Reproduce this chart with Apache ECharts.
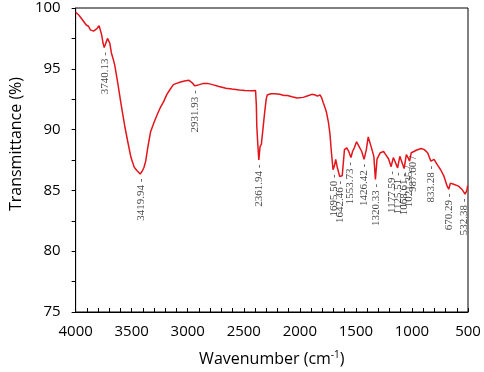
<!DOCTYPE html>
<html>
<head>
<meta charset="utf-8">
<script src="https://cdn.jsdelivr.net/npm/echarts@6/dist/echarts.min.js"></script>
<style>
  html, body { margin: 0; padding: 0; background: #fff; }
  #ftirChart { width: 484px; height: 372px; }
</style>
</head>
<body>
<div id="ftirChart"></div>
<script>
// spectrum (wavenumber cm-1, transmittance %)
const wavenumber = [
  4000, 3970, 3945, 3928, 3905, 3885, 3869, 3855, 3840, 3826, 3810, 3791, 3780, 3768, 3755, 3745,
  3735, 3716, 3705, 3695, 3681, 3665, 3651, 3622, 3594, 3564, 3535, 3506, 3477, 3450, 3424, 3405,
  3390, 3375, 3355, 3332, 3300, 3274, 3245, 3215, 3186, 3158, 3128, 3099, 3070, 3030, 2988, 2960,
  2939, 2915, 2896, 2860, 2823, 2780, 2721, 2660, 2605, 2540, 2489, 2430, 2395, 2388, 2384, 2375,
  2366, 2355, 2343, 2329, 2314, 2300, 2291, 2260, 2227, 2180, 2140, 2111, 2070, 2024, 1970, 1922,
  1905, 1893, 1880, 1863, 1845, 1830, 1820, 1805, 1791, 1775, 1762, 1745, 1732, 1718, 1704, 1692,
  1680, 1666, 1645, 1622, 1602, 1582, 1564, 1544, 1530, 1514, 1494, 1471, 1448, 1427, 1407, 1390,
  1384, 1361, 1340, 1326, 1311, 1282, 1268, 1253, 1239, 1224, 1209, 1186, 1166, 1152, 1128, 1108,
  1093, 1070, 1050, 1035, 1021, 1006, 983, 962, 919, 890, 860, 831, 803, 773, 744, 716,
  686, 672, 657, 628, 585, 555, 526, 510, 503
];
const transmittance = [
  99.65, 99.4, 99.1, 99.0, 98.6, 98.5, 98.2, 98.3, 98.1, 98.1, 98.3, 98.55, 98.2, 97.8, 97.1, 96.75,
  97.0, 97.5, 97.3, 97.1, 96.3, 95.8, 95.3, 93.7, 92.05, 90.4, 89.0, 87.7, 86.9, 86.6, 86.35, 86.6,
  86.9, 87.4, 88.6, 89.8, 90.6, 91.2, 91.8, 92.3, 92.9, 93.3, 93.7, 93.8, 93.9, 94.0, 94.05, 93.85,
  93.6, 93.65, 93.7, 93.8, 93.8, 93.7, 93.55, 93.4, 93.33, 93.25, 93.22, 93.2, 93.22, 92.0, 90.3, 88.8,
  87.5, 88.6, 88.8, 88.9, 91.4, 92.5, 92.85, 92.95, 92.95, 92.9, 92.8, 92.8, 92.7, 92.6, 92.65, 92.8,
  92.75, 92.9, 92.75, 92.85, 92.75, 92.9, 92.85, 92.6, 92.2, 91.8, 91.4, 90.6, 89.7, 88.1, 86.7, 87.0,
  87.55, 86.9, 86.15, 86.2, 88.35, 88.5, 88.2, 87.7, 88.2, 88.5, 89.0, 88.6, 88.2, 87.55, 88.35, 89.4,
  89.3, 88.5, 87.8, 85.9, 87.6, 88.1, 88.2, 88.2, 88.0, 87.9, 87.6, 86.95, 87.7, 87.4, 86.85, 87.8,
  87.95, 86.8, 87.95, 87.7, 87.4, 88.1, 88.2, 88.3, 88.45, 88.35, 88.1, 87.4, 87.55, 87.1, 86.7, 86.2,
  85.35, 85.1, 85.6, 85.5, 85.35, 85.1, 84.7, 85.0, 85.4
];

// labelled bands
const peakWavenumber = [3740.13, 3419.94, 2931.93, 2361.94, 1695.50, 1642.46, 1553.73, 1426.42,
  1320.33, 1177.59, 1125.51, 1068.61, 1021.35, 987.60, 833.28, 670.29, 532.38];
const peakTransmittance = [96.75, 86.35, 93.6, 87.5, 86.7, 86.15, 87.7, 87.55,
  85.9, 86.95, 86.85, 86.8, 87.4, 88.2, 87.4, 85.1, 84.7];
const peakLabels = ['3740.13 -', '3419.94 -', '2931.93 -', '2361.94 -', '1695.50 -', '1642.46 -',
  '1553.73 -', '1426.42 -', '1320.33 -', '1177.59 -', '1125.51 -', '1068.61 -', '1021.35 /',
  '987.60 /', '833.28 -', '670.29 -', '532.38 -'];

const xTicks = [500, 4000, 500]; // min, max, interval
const yTicks = [75, 100, 5];

const axisFont = 'Open Sans';

const chart = echarts.init(document.getElementById('ftirChart'));

chart.setOption({
  animation: false,
  grid: {
    left: 66,
    right: 16,
    top: 8,
    bottom: 59,
    show: true,
    borderColor: '#000',
    borderWidth: 1,
  },
  xAxis: {
    type: 'value',
    inverse: true,
    min: xTicks[0],
    max: xTicks[1],
    interval: xTicks[2],
    axisLine: { show: true, onZero: false, lineStyle: { color: '#000', width: 1 } },
    axisTick: { show: true, inside: true, length: 4, lineStyle: { color: '#000' } },
    minorTick: { show: true, splitNumber: 5, length: 4, lineStyle: { color: '#000' } },
    splitLine: { show: false },
    axisLabel: {
      color: '#000', fontSize: 15, fontFamily: axisFont, margin: 12,
      formatter: (v) => String(v),
    },
    name: 'Wavenumber (cm{sup|-1})',
    nameLocation: 'middle',
    nameGap: 38,
    nameTextStyle: {
      color: '#000',
      fontSize: 16,
      fontFamily: axisFont,
      rich: {
        sup: { fontSize: 10, verticalAlign: 'top', fontFamily: axisFont, color: '#000', padding: [0, 0, 8, 0] },
      },
    },
  },
  yAxis: {
    type: 'value',
    min: yTicks[0],
    max: yTicks[1],
    interval: yTicks[2],
    axisLine: { show: true, lineStyle: { color: '#000', width: 1 } },
    axisTick: { show: true, length: 4, lineStyle: { color: '#000' } },
    minorTick: { show: true, splitNumber: 2, length: 4, lineStyle: { color: '#000' } },
    splitLine: { show: false },
    axisLabel: { color: '#000', fontSize: 15, fontFamily: axisFont, margin: 15 },
    name: 'Transmittance (%)',
    nameLocation: 'middle',
    nameGap: 44,
    nameTextStyle: { color: '#000', fontSize: 16, fontFamily: axisFont, padding: [0, 0, 0, 32] },
  },
  series: [
    {
      name: 'spectrum',
      type: 'line',
      symbol: 'none',
      lineStyle: { color: '#e4141b', width: 1.5 },
      data: wavenumber.map((w, i) => [w, transmittance[i]]),
      z: 3,
    },
    {
      name: 'bands',
      type: 'scatter',
      symbol: 'circle',
      symbolSize: 1,
      itemStyle: { color: 'rgba(0,0,0,0)' },
      silent: true,
      data: peakWavenumber.map((w, i) => ({ value: [w, peakTransmittance[i]], name: peakLabels[i] })),
      label: {
        show: true,
        position: 'bottom',
        distance: 4,
        rotate: 90,
        align: 'right',
        verticalAlign: 'middle',
        formatter: '{b}',
        fontSize: 11,
        fontFamily: 'Liberation Serif',
        color: '#111',
      },
      labelLayout: { hideOverlap: false },
      z: 4,
    },
  ],
});
</script>
</body>
</html>
